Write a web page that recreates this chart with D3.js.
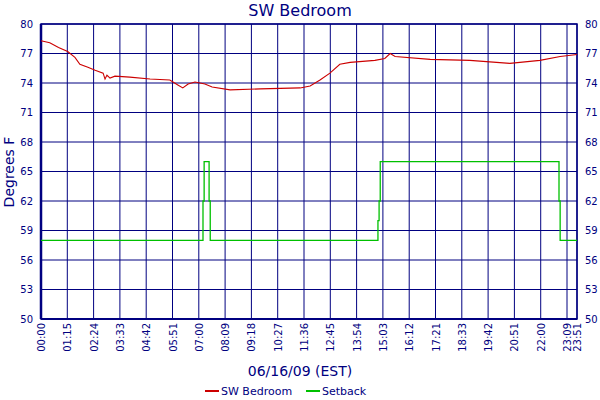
<!DOCTYPE html>
<html><head><meta charset="utf-8">
<script src="https://cdn.jsdelivr.net/npm/d3@7"></script>
<style>body{margin:0;background:#fff}text{font-family:"DejaVu Sans",Verdana,sans-serif}</style>
</head><body><svg id="c" width="600" height="400"></svg>
<script>
const tickLabels=["00:00","01:15","02:24","03:33","04:42","05:51","07:00","08:09","09:18","10:27","11:36","12:45","13:54","15:03","16:12","17:21","18:33","19:42","20:51","22:00","23:09","23:51"];
const tickMinutes=[0,75,144,213,282,351,420,489,558,627,696,765,834,903,972,1041,1113,1182,1251,1320,1389,1431];
const tickSlots=[0,1,2,3,4,5,6,7,8,9,10,11,12,13,14,15,16,17,18,19,20,20.38];
const yTicks=[50,53,56,59,62,65,68,71,74,77,80];
const roomMinutes=[0,25,50,76,95,108,129,148,169,174,179,187,200,239,292,344,365,378,392,410,436,455,502,581,686,712,738,764,790,817,882,908,922,935,1027,1134,1239,1318,1371,1431];
const roomTemps=[78.3,78.1,77.6,77.2,76.6,75.9,75.6,75.3,75.0,74.4,74.8,74.5,74.7,74.6,74.4,74.3,73.8,73.5,73.9,74.1,73.9,73.6,73.3,73.4,73.5,73.7,74.3,75.0,75.9,76.1,76.3,76.5,77.0,76.7,76.4,76.3,76.0,76.3,76.7,76.9];
const setbackMinutes=[0,431,434,447,450,890,893,896,1368,1371,1431];
const setbackTemps=[58,62,66,62,58,60,62,66,62,58,58];

const svg=d3.select("#c");
const L=41,R=577,T=24,B=319,navy="#000080";
const step=(R-L)/20.38;
const x=d3.scaleLinear().domain(tickMinutes).range(tickSlots.map(s=>L+s*step));
const y=d3.scaleLinear().domain([50,80]).range([B,T]);
const g=svg.append("g");
yTicks.forEach(v=>g.append("line").attr("x1",L).attr("x2",R).attr("y1",y(v)).attr("y2",y(v)).attr("stroke",navy).attr("stroke-width",1));
tickMinutes.forEach(m=>g.append("line").attr("x1",x(m)).attr("x2",x(m)).attr("y1",T).attr("y2",B).attr("stroke",navy).attr("stroke-width",1));
g.append("rect").attr("x",L).attr("y",T).attr("width",R-L).attr("height",B-T).attr("fill","none").attr("stroke",navy).attr("stroke-width",1.5);
g.append("line").attr("x1",L).attr("x2",L).attr("y1",T).attr("y2",B).attr("stroke",navy).attr("stroke-width",2.5);
g.append("line").attr("x1",L).attr("x2",R).attr("y1",B).attr("y2",B).attr("stroke",navy).attr("stroke-width",2);
const yl=d3.axisLeft(y).tickValues(yTicks).tickSize(0).tickPadding(8);
const yr=d3.axisRight(y).tickValues(yTicks).tickSize(0).tickPadding(8);
const styleAx=s=>{s.select(".domain").remove();s.selectAll("text").attr("fill",navy).style("font-size","10px");};
svg.append("g").attr("transform",`translate(${L},0)`).call(yl).call(styleAx);
svg.append("g").attr("transform",`translate(${R},0)`).call(yr).call(styleAx);
const xa=d3.axisBottom(x).tickValues(tickMinutes).tickFormat((d,i)=>tickLabels[i]).tickSize(0);
const xg=svg.append("g").attr("transform",`translate(0,${B})`).call(xa);
xg.select(".domain").remove();
xg.selectAll("text").attr("fill",navy).style("font-size","10px").attr("transform","rotate(-90)").attr("text-anchor","end").attr("x",-4).attr("y",0).attr("dy","0.35em");
const sb=setbackMinutes.map((m,i)=>[m,setbackTemps[i]]);
svg.append("path").datum(sb).attr("fill","none").attr("stroke","#00c000").attr("stroke-width",1.3)
 .attr("d",d3.line().x(d=>x(d[0])).y(d=>y(d[1])).curve(d3.curveStepAfter));
const rm=roomMinutes.map((m,i)=>[m,roomTemps[i]]);
svg.append("path").datum(rm).attr("fill","none").attr("stroke","#cc0000").attr("stroke-width",1.1)
 .attr("d",d3.line().x(d=>x(d[0])).y(d=>y(d[1])));
svg.append("text").attr("x",300).attr("y",16).attr("text-anchor","middle").attr("fill",navy).style("font-size","16px").text("SW Bedroom");
svg.append("text").attr("x",300).attr("y",376).attr("text-anchor","middle").attr("fill",navy).style("font-size","14px").text("06/16/09 (EST)");
svg.append("text").attr("transform","translate(14,172) rotate(-90)").attr("text-anchor","middle").attr("fill",navy).style("font-size","14px").text("Degrees F");
const leg=[["SW Bedroom","#cc0000",205],["Setback","#00c000",306]];
leg.forEach(([t,c,lx])=>{svg.append("line").attr("x1",lx).attr("x2",lx+14).attr("y1",391).attr("y2",391).attr("stroke",c).attr("stroke-width",2);
 svg.append("text").attr("x",lx+16).attr("y",395).attr("fill",navy).style("font-size","11px").text(t);});
</script></body></html>
